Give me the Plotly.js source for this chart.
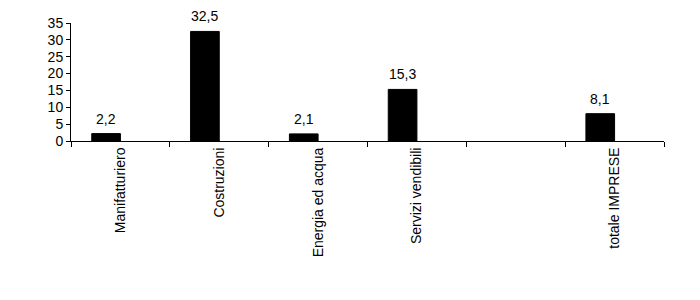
<!DOCTYPE html>
<html>
<head>
<meta charset="utf-8">
<script src="https://cdn.plot.ly/plotly-3.0.1.min.js"></script>
<style>html,body{margin:0;padding:0;background:#fff;}#chart{width:700px;height:300px;}</style>
</head>
<body>
<div id="chart"></div>
<script>
var categories = ['Manifatturiero', 'Costruzioni', 'Energia ed acqua', 'Servizi vendibili', ' ', 'totale IMPRESE'];
var values = [2.2, 32.5, 2.1, 15.3, null, 8.1];
var yTicks = [0, 5, 10, 15, 20, 25, 30, 35];

var BAR_W = 0.29;
var FONT = 'Liberation Sans, Arial, sans-serif';

var trace = {
  type: 'bar',
  x: categories,
  y: values,
  width: BAR_W,
  offset: -BAR_W,
  marker: {color: '#000000', line: {color: '#000000', width: 1}},
  hoverinfo: 'none'
};

var annotations = [];
values.forEach(function (v, i) {
  if (v === null) return;
  annotations.push({
    x: i - BAR_W / 2,
    y: v,
    xref: 'x',
    yref: 'y',
    text: v.toFixed(1).replace('.', ','),
    showarrow: false,
    yanchor: 'bottom',
    xanchor: 'center',
    yshift: 5,
    font: {family: FONT, size: 14, color: '#000'}
  });
});

var layout = {
  width: 700,
  height: 300,
  margin: {l: 71, r: 36, t: 23, b: 159},
  paper_bgcolor: '#fff',
  plot_bgcolor: '#fff',
  separators: ',.',
  showlegend: false,
  font: {family: FONT, size: 14, color: '#000'},
  annotations: annotations,
  xaxis: {
    type: 'category',
    showline: true,
    linecolor: '#000',
    linewidth: 1,
    ticks: 'outside',
    tickson: 'boundaries',
    ticklen: 5,
    tickcolor: '#000',
    tickangle: -90,
    showgrid: false,
    zeroline: false,
    tickfont: {size: 14}
  },
  yaxis: {
    range: [0, 35],
    tickvals: yTicks,
    showline: true,
    linecolor: '#000',
    linewidth: 1,
    ticks: 'outside',
    ticklen: 4,
    tickcolor: '#000',
    showgrid: false,
    zeroline: false,
    tickfont: {size: 14}
  }
};

Plotly.newPlot('chart', [trace], layout, {staticPlot: true, displayModeBar: false});
</script>
</body>
</html>
